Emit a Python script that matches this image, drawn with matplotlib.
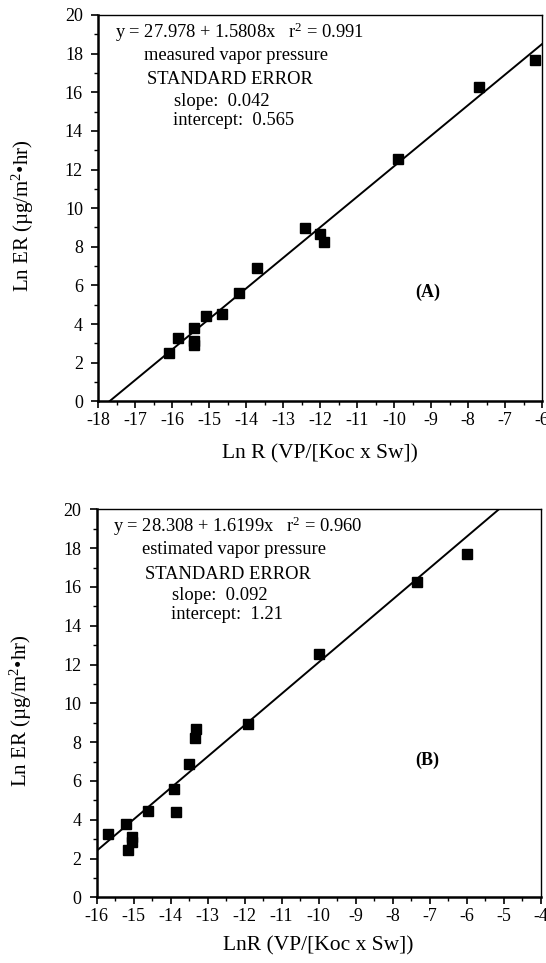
import numpy as np
import matplotlib
matplotlib.use("Agg")
import matplotlib.pyplot as plt
from matplotlib.ticker import MultipleLocator

plt.rcParams["font.family"] = ["Liberation Serif", "DejaVu Serif"]
plt.rcParams["mathtext.fontset"] = "custom"
plt.rcParams["mathtext.rm"] = "Liberation Serif"
plt.rcParams["mathtext.it"] = "Liberation Serif:italic"
plt.rcParams["axes.unicode_minus"] = False

# Panel A: measured vapor pressure
xA = [-16.1, -15.85, -15.4, -15.4, -15.4, -15.1, -14.65, -14.2, -13.7,
      -12.4, -12.0, -11.9, -9.9, -7.7, -6.2]
yA = [2.5, 3.3, 3.8, 3.1, 2.9, 4.4, 4.5, 5.6, 6.9,
      8.95, 8.65, 8.25, 12.55, 16.25, 17.65]
fitA = (27.978, 1.5808)

# Panel B: estimated vapor pressure
xB = [-15.7, -15.2, -15.05, -15.05, -15.15, -14.6, -13.9, -13.85, -13.5,
      -13.35, -13.3, -11.9, -10.0, -7.35, -6.0]
yB = [3.25, 3.8, 3.1, 2.85, 2.45, 4.45, 5.6, 4.4, 6.85,
      8.2, 8.65, 8.95, 12.55, 16.25, 17.7]
fitB = (28.308, 1.6199)

W, H = 546, 963
fig = plt.figure(figsize=(W / 100, H / 100), dpi=100)


def make_axes(px_left, px_top, px_right, px_bottom):
    return fig.add_axes([px_left / W, 1 - px_bottom / H,
                         (px_right - px_left) / W, (px_bottom - px_top) / H])


def style(ax, xlim, xlabel, xlab_y):
    ax.set_xlim(*xlim)
    ax.set_ylim(0, 20)
    ax.xaxis.set_major_locator(MultipleLocator(1))
    ax.xaxis.set_minor_locator(MultipleLocator(0.5))
    ax.yaxis.set_major_locator(MultipleLocator(2))
    ax.yaxis.set_minor_locator(MultipleLocator(1))
    ax.tick_params(which="major", direction="out", length=5, width=1.2,
                   labelsize=13, pad=3)
    ax.tick_params(axis="y", which="major", pad=6)
    ax.tick_params(which="minor", direction="out", length=3, width=1.0)
    for side in ("left", "bottom"):
        ax.spines[side].set_linewidth(1.8)
    for side in ("top", "right"):
        ax.spines[side].set_linewidth(1.0)
    ax.set_xlabel(xlabel, fontsize=15.5)
    ax.xaxis.set_label_coords(0.5, xlab_y)
    ax.set_ylabel("Ln ER (µg/m$^{2}$•hr)", fontsize=15)
    ax.yaxis.set_label_coords(-0.14, 0.48)


def panel(ax, x, y, fit, xlim, notes, tag, tag_pos):
    b0, b1 = fit
    xs = np.array(xlim)
    ax.plot(xs, b0 + b1 * xs, color="black", lw=1.4)
    ax.plot(x, y, "s", color="black", ms=7.5)
    eq, desc, se_slope, se_int = notes
    t = ax.transAxes
    ax.text(0.038, 0.956, f"y = {b0} + {b1}x   r$^{{2}}$ = {eq}", transform=t,
            fontsize=13.3, va="center", ha="left")
    ax.text(0.31, 0.896, desc, transform=t, fontsize=13.3, va="center", ha="center")
    ax.text(0.11, 0.832, "STANDARD ERROR", transform=t, fontsize=13.3, va="center")
    ax.text(0.171, 0.777, f"slope:  {se_slope}", transform=t, fontsize=13.3,
            va="center")
    ax.text(0.168, 0.728, f"intercept:  {se_int}", transform=t, fontsize=13.3,
            va="center")
    ax.text(tag_pos[0], tag_pos[1], tag, transform=t, fontsize=13,
            fontweight="bold", ha="center", va="center")


axA = make_axes(98.3, 15, 542, 401.3)
panel(axA, xA, yA, fitA, (-18, -6),
      ("0.991", "measured vapor pressure", "0.042", "0.565"), "(A)", (0.743, 0.283))
style(axA, (-18, -6), "Ln R (VP/[Koc x Sw])", -0.112)

axB = make_axes(96.5, 509.3, 540.7, 897.3)
panel(axB, xB, yB, fitB, (-16, -4),
      ("0.960", "estimated vapor pressure", "0.092", "1.21"), "(B)", (0.744, 0.354))
style(axB, (-16, -4), "LnR (VP/[Koc x Sw])", -0.1)

fig.savefig("out.png", dpi=100)
